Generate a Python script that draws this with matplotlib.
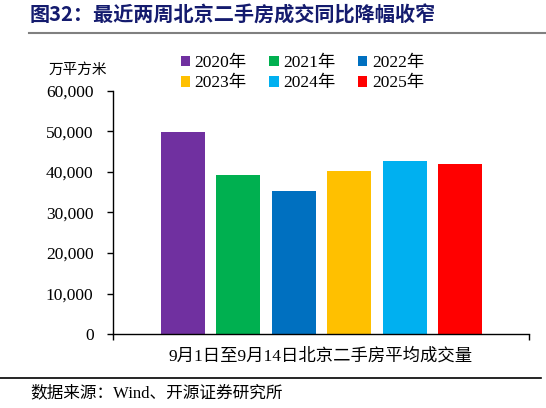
import numpy as np
import matplotlib
matplotlib.use('Agg')
import matplotlib.pyplot as plt
from matplotlib.ticker import FuncFormatter
from matplotlib.patches import Patch

plt.rcParams['font.family'] = ['Liberation Serif', 'Noto Sans CJK SC', 'DejaVu Sans']

# data
years = ['2020年', '2021年', '2022年', '2023年', '2024年', '2025年']
values = [49800, 39300, 35200, 40200, 42700, 41900]
colors = ['#7030A0', '#00B050', '#0070C0', '#FFC000', '#00B0F0', '#FF0000']
yticks = [0, 10000, 20000, 30000, 40000, 50000, 60000]

fig = plt.figure(figsize=(5.46, 4.08), dpi=100)
ax = fig.add_axes([0.207, 0.181, 0.762, 0.597])

x = np.arange(len(values))
ax.bar(x, values, width=0.79, color=colors)

ax.set_xlim(-1.26, 6.24)
ax.set_ylim(0, 60000)
ax.set_yticks(yticks)
ax.yaxis.set_major_formatter(FuncFormatter(lambda v, p: '{:,.0f}'.format(v)))
ax.set_xticks([-1.26, 6.24])
ax.set_xticklabels(['', ''])
ax.tick_params(axis='both', direction='out', length=4, width=1, colors='black', labelsize=12.5)
ax.tick_params(axis='y', pad=10)
for s in ['top', 'right']:
    ax.spines[s].set_visible(False)
for s in ['left', 'bottom']:
    ax.spines[s].set_linewidth(1)

# legend, filled row by row (matplotlib fills by column)
order = [0, 3, 1, 4, 2, 5]
handles = [Patch(facecolor=colors[i], edgecolor='none') for i in order]
labels = [years[i] for i in order]
fig.legend(handles, labels, loc='upper left', bbox_to_anchor=(0.318, 0.882), ncol=3,
           frameon=False, fontsize=12.5, handlelength=0.55, handleheight=0.55,
           handletextpad=0.25, columnspacing=1.3, labelspacing=0.25, borderaxespad=0)

# texts
fig.text(0.142, 0.829, '万平方米', fontsize=10.5, ha='center', va='center')
fig.text(0.588, 0.127, '9月1日至9月14日北京二手房平均成交量', fontsize=12.5,
         ha='center', va='center')
fig.text(0.055, 0.962, '图32：最近两周北京二手房成交同比降幅收窄', fontsize=14.5,
         fontweight='bold', color='#141B6E', ha='left', va='center',
         family=['Noto Sans CJK SC', 'DejaVu Sans'])
fig.text(0.055, 0.037, '数据来源：Wind、开源证券研究所', fontsize=12,
         ha='left', va='center')

# rules under title / above source
fig.add_artist(plt.Line2D([0.053, 1.0], [0.918, 0.918], color='#808080', lw=1.5))
fig.add_artist(plt.Line2D([0.0, 0.99], [0.073, 0.073], color='black', lw=1.2))

plt.savefig('out.png', dpi=100)
